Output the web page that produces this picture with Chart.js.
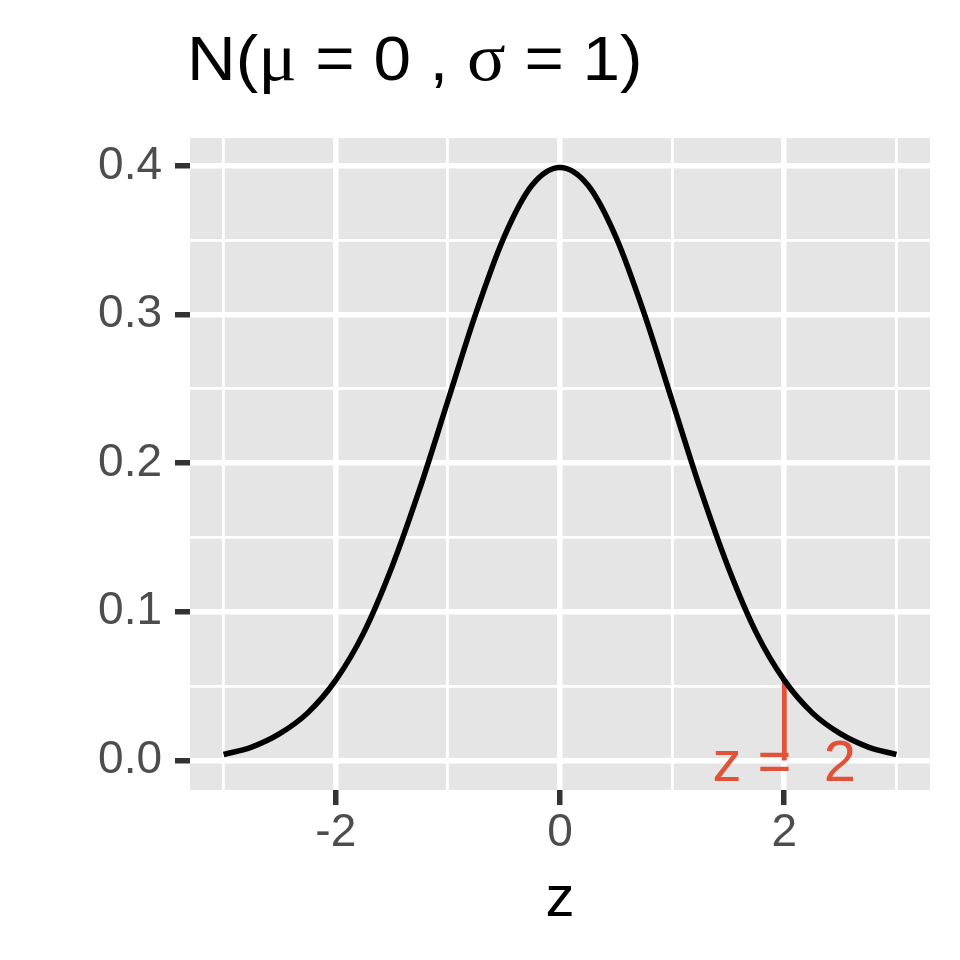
<!DOCTYPE html>
<html>
<head>
<meta charset="utf-8">
<script src="https://cdn.jsdelivr.net/npm/chart.js@4/dist/chart.umd.min.js"></script>
<style>
  html, body { margin: 0; padding: 0; background: #ffffff; }
  #wrap { width: 960px; height: 960px; }
</style>
</head>
<body>
<div id="wrap"><canvas id="normalChart" width="960" height="960"></canvas></div>
<script>
"use strict";

// density curve
const zValues = [-3, -2.75, -2.5, -2.25, -2, -1.75, -1.5, -1.25, -1, -0.75, -0.5, -0.25, 0,
                 0.25, 0.5, 0.75, 1, 1.25, 1.5, 1.75, 2, 2.25, 2.5, 2.75, 3];
const densityValues = [0.004, 0.009, 0.018, 0.032, 0.054, 0.086, 0.130, 0.183, 0.242, 0.301, 0.352, 0.387, 0.399,
                       0.387, 0.352, 0.301, 0.242, 0.183, 0.130, 0.086, 0.054, 0.032, 0.018, 0.009, 0.004];

// marker at z = 2
const markerZ = [2, 2];
const markerY = [0, 0.054];
const markerLabel = "z =  2";

const xTicks = [-3, -2, -1, 0, 1, 2, 3];
const xLabelled = [-2, 0, 2];
const yTicks = [0, 0.05, 0.1, 0.15, 0.2, 0.25, 0.3, 0.35, 0.4];
const yLabelled = [0, 0.1, 0.2, 0.3, 0.4];

const titleParts = [
    { text: "N(", serif: false },
    { text: "\u03bc", serif: true },
    { text: " = 0 , ", serif: false },
    { text: "\u03c3", serif: true },
    { text: " = 1)", serif: false }
];

const SANS = "'Liberation Sans', Arial, sans-serif";
const SERIF = "'Liberation Serif', 'DejaVu Serif', serif";
const RED = "#E0533A";

const isMajor = (list, v) => list.some(t => Math.abs(t - v) < 1e-9);

const panelPlugin = {
    id: "panel",
    beforeDraw(chart) {
        const { ctx, chartArea: a } = chart;
        ctx.save();
        ctx.fillStyle = "#E5E5E5";
        ctx.fillRect(a.left, a.top, a.right - a.left, a.bottom - a.top);
        ctx.restore();
    },
    afterDatasetsDraw(chart) {
        const { ctx, scales } = chart;
        ctx.save();
        ctx.fillStyle = RED;
        ctx.font = "58px " + SANS;
        ctx.textAlign = "center";
        ctx.textBaseline = "alphabetic";
        ctx.fillText(markerLabel, scales.x.getPixelForValue(markerZ[0]), scales.y.getPixelForValue(0) + 21);
        ctx.restore();
    },
    afterDraw(chart) {
        const { ctx, chartArea: a } = chart;
        ctx.save();
        ctx.fillStyle = "#000000";
        ctx.textBaseline = "alphabetic";
        ctx.textAlign = "left";
        // plotmath spacing is wider than plain text, stretch a little
        ctx.translate(a.left - 3, 80);
        ctx.scale(1.07, 1);
        let x = 0;
        titleParts.forEach(part => {
            ctx.font = (part.serif ? "67px " + SERIF : "63px " + SANS);
            ctx.fillText(part.text, x, 0);
            x += ctx.measureText(part.text).width;
        });
        ctx.restore();
    }
};

new Chart(document.getElementById("normalChart").getContext("2d"), {
    type: "line",
    data: {
        datasets: [{
            data: zValues.map((z, i) => ({ x: z, y: densityValues[i] })),
            borderColor: "#000000",
            borderWidth: 5.5,
            pointRadius: 0,
            cubicInterpolationMode: "monotone",
            fill: false
        }, {
            data: markerZ.map((z, i) => ({ x: z, y: markerY[i] })),
            borderColor: RED,
            borderWidth: 5,
            pointRadius: 0,
            fill: false
        }]
    },
    options: {
        responsive: false,
        animation: false,
        events: [],
        layout: { padding: { top: 138, right: 30, bottom: 0, left: 0 } },
        plugins: {
            legend: { display: false },
            tooltip: { enabled: false },
            title: { display: false }
        },
        scales: {
            x: {
                type: "linear",
                min: -3.3,
                max: 3.3,
                afterBuildTicks: scale => { scale.ticks = xTicks.map(v => ({ value: v })); },
                afterFit: scale => { scale.height = 170; },
                border: { display: false },
                grid: {
                    color: "#FFFFFF",
                    lineWidth: c => isMajor(xLabelled, c.tick.value) ? 5.5 : 2.8,
                    drawTicks: true,
                    tickLength: 15,
                    tickWidth: 5.5,
                    tickColor: c => isMajor(xLabelled, c.tick.value) ? "#333333" : "rgba(0,0,0,0)"
                },
                ticks: {
                    autoSkip: false,
                    maxRotation: 0,
                    padding: 1,
                    color: "#4D4D4D",
                    font: { family: SANS, size: 46 },
                    callback: v => isMajor(xLabelled, v) ? String(v) : ""
                },
                title: {
                    display: true,
                    text: "z",
                    color: "#000000",
                    font: { family: SANS, size: 58 },
                    padding: { top: 0, bottom: 25 }
                }
            },
            y: {
                type: "linear",
                min: -0.0199,
                max: 0.4188,
                afterBuildTicks: scale => { scale.ticks = yTicks.map(v => ({ value: v })); },
                afterFit: scale => { scale.width = 190; },
                border: { display: false },
                grid: {
                    color: "#FFFFFF",
                    lineWidth: c => isMajor(yLabelled, c.tick.value) ? 5.5 : 2.8,
                    drawTicks: true,
                    tickLength: 15,
                    tickWidth: 5.5,
                    tickColor: c => isMajor(yLabelled, c.tick.value) ? "#333333" : "rgba(0,0,0,0)"
                },
                ticks: {
                    autoSkip: false,
                    padding: 13,
                    color: "#4D4D4D",
                    font: { family: SANS, size: 46 },
                    callback: v => isMajor(yLabelled, v) ? v.toFixed(1) : ""
                }
            }
        }
    },
    plugins: [panelPlugin]
});
</script>
</body>
</html>
